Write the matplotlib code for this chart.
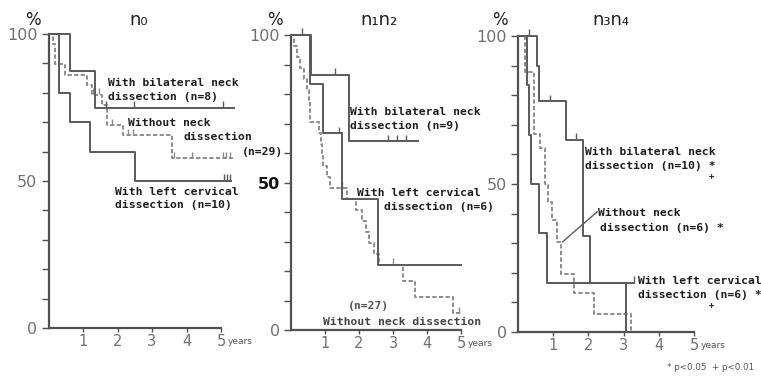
import numpy as np
import matplotlib
matplotlib.use("Agg")
import matplotlib.pyplot as plt

# survival curves, % alive vs years after treatment
# panel n0
n0_bil_t = [0, 0.63, 1.35]
n0_bil_s = [100, 87.5, 75]
n0_bil_end = 5.38
n0_bil_cens = [1.67, 2.49, 5.07]

n0_left_t = [0, 0.31, 0.63, 1.21, 2.51]
n0_left_s = [100, 80, 70, 60, 50]
n0_left_end = 5.3
n0_left_cens = [5.1, 5.18, 5.26]

n0_wo_t = [0, 0.12, 0.19, 0.48, 1.11, 1.26, 1.55, 1.69, 2.17, 3.58]
n0_wo_s = [100, 96.6, 89.7, 86.2, 82.8, 79.3, 75.9, 69.0, 65.5, 57.7]
n0_wo_end = 5.36
n0_wo_cens = [1.3, 1.45, 1.85, 2.3, 2.45, 3.65, 4.15, 5.05, 5.15, 5.25]

# panel n1n2
n12_bil_t = [0, 0.59, 1.71]
n12_bil_s = [100, 86.5, 64]
n12_bil_end = 3.74
n12_bil_cens = [0.32, 1.29, 2.86, 3.12, 3.38]

n12_left_t = [0, 0.56, 0.95, 1.51, 2.57]
n12_left_s = [100, 83.3, 66.7, 44.4, 22.2]
n12_left_end = 5.0
n12_left_cens = [1.4]

n12_wo_t = [0, 0.08, 0.18, 0.25, 0.38, 0.48, 0.52, 0.55, 0.57, 0.82, 0.88,
            0.92, 0.95, 1.05, 1.15, 1.65, 1.9, 2.1, 2.2, 2.3, 2.45, 2.6,
            3.3, 3.65, 4.75]
n12_wo_s = [100, 96.3, 92.6, 88.9, 85.2, 81.5, 77.8, 74.1, 70.4, 66.7, 63.0,
            59.3, 55.6, 51.9, 48.1, 44.4, 40.7, 37.0, 33.3, 29.6, 25.9, 22.2,
            16.7, 11.1, 5.6]
n12_wo_end = 5.0
n12_wo_cens = [1.5, 3.0, 4.95]

# panel n3n4
n34_bil_t = [0, 0.54, 0.61, 1.35, 1.84, 2.04, 3.06]
n34_bil_s = [100, 90, 78, 65, 32.5, 16.5, 0]
n34_bil_end = 3.06
n34_bil_cens = [0.3, 0.9, 1.65]

n34_left_t = [0, 0.25, 0.3, 0.36, 0.59, 0.81]
n34_left_s = [100, 83.3, 66.7, 50, 33.3, 16.7]
n34_left_end = 3.3
n34_left_cens = [3.3]

n34_wo_t = [0, 0.2, 0.46, 0.62, 0.76, 0.86, 0.98, 1.12, 1.22, 1.6, 2.17, 3.22]
n34_wo_s = [100, 88, 67, 62, 50, 44, 38, 30.5, 19.5, 13.3, 6, 0]
n34_wo_end = 3.22
n34_wo_cens = []

titles = ["n\u2080", "n\u2081n\u2082", "n\u2083n\u2084"]
x_ticks = [1, 2, 3, 4, 5]
y_ticks = [0, 50, 100]

SOLID = "#5a5a5a"
DASH = "#8c8c8c"
AXC = "#505050"
TXT = "#1e1e1e"
MONO = "DejaVu Sans Mono"

W, H = 761, 379
fig = plt.figure(figsize=(W / 100, H / 100), dpi=100)


def make_axes(x0, ppy, y0, y100):
    xmax = 5.8
    ax = fig.add_axes([x0 / W, (H - y0) / H, xmax * ppy / W, (y0 - y100) / H])
    ax.set_xlim(0, xmax)
    ax.set_ylim(0, 100)
    for s in ["top", "right"]:
        ax.spines[s].set_visible(False)
    for s in ["left", "bottom"]:
        ax.spines[s].set_color(AXC)
        ax.spines[s].set_linewidth(1.6)
    ax.spines["bottom"].set_bounds(0, 5)
    ax.spines["left"].set_bounds(0, 100)
    ax.set_xticks(x_ticks)
    ax.set_xticklabels([str(v) for v in x_ticks], color="#707070", fontsize=10.5)
    ax.set_yticks(np.arange(0, 101, 10), minor=True)
    ax.set_yticks(y_ticks)
    ax.set_yticklabels([str(v) for v in y_ticks], color="#707070", fontsize=11.5)
    ax.tick_params(axis="x", direction="out", length=3, width=1, color=AXC, pad=1)
    ax.tick_params(axis="y", which="both", direction="out", length=5, width=1,
                   color=AXC, pad=3)
    ax.patch.set_alpha(0)
    ax.text(5.2, -3.2, "years", fontsize=6.5, color="#555555", va="top",
            ha="left", clip_on=False)
    return ax


def surv_at(t, s, x):
    i = np.searchsorted(t, x, side="right") - 1
    return np.asarray(s)[i]


def curve(ax, t, s, end, cens, dashed=False):
    t = np.asarray(t, float)
    s = np.asarray(s, float)
    xs = np.r_[t, end]
    ys = np.r_[s, s[-1]]
    col = DASH if dashed else SOLID
    ls = (0, (2.2, 1.2)) if dashed else "-"
    ax.step(xs, ys, where="post", color=col, lw=1.4, ls=ls, clip_on=False,
            zorder=3)
    if len(cens):
        cy = surv_at(t, s, np.asarray(cens))
        ax.plot(cens, cy + 1.2, ls="none", marker="|", ms=4, mew=1, color=col,
                clip_on=False, zorder=3)


def label(ax, x, y, s, color=TXT, size=8.2):
    ax.text(x, y, s, fontsize=size, family=MONO, fontweight="bold", color=color,
            ha="left", va="center", clip_on=False, zorder=4)


ax1 = make_axes(48.5, 34.5, 328, 34)
ax2 = make_axes(291, 34.0, 330, 35)
ax3 = make_axes(518, 35.2, 332, 36)

curve(ax1, n0_wo_t, n0_wo_s, n0_wo_end, n0_wo_cens, dashed=True)
curve(ax1, n0_bil_t, n0_bil_s, n0_bil_end, n0_bil_cens)
curve(ax1, n0_left_t, n0_left_s, n0_left_end, n0_left_cens)

curve(ax2, n12_wo_t, n12_wo_s, n12_wo_end, n12_wo_cens, dashed=True)
curve(ax2, n12_bil_t, n12_bil_s, n12_bil_end, n12_bil_cens)
curve(ax2, n12_left_t, n12_left_s, n12_left_end, n12_left_cens)

curve(ax3, n34_wo_t, n34_wo_s, n34_wo_end, n34_wo_cens, dashed=True)
curve(ax3, n34_bil_t, n34_bil_s, n34_bil_end, n34_bil_cens)
curve(ax3, n34_left_t, n34_left_s, n34_left_end, n34_left_cens)

# the 50 label on the middle panel is printed heavier
ax2.get_yticklabels()[1].set_color("#111111")
ax2.get_yticklabels()[1].set_fontweight("bold")

label(ax1, 1.72, 83.3, "With bilateral neck")
label(ax1, 1.72, 78.6, "dissection (n=8)")
label(ax1, 2.30, 69.7, "Without neck")
label(ax1, 3.90, 65.0, "dissection")
label(ax1, 5.61, 59.9, "(n=29)")
label(ax1, 1.93, 46.3, "With left cervical")
label(ax1, 1.93, 41.8, "dissection (n=10)")

label(ax2, 1.74, 73.9, "With bilateral neck")
label(ax2, 1.74, 69.2, "dissection (n=9)")
label(ax2, 1.94, 46.4, "With left cervical")
label(ax2, 2.74, 41.7, "dissection (n=6)")
label(ax2, 1.68, 8.1, "(n=27)", color="#555555")
label(ax2, 0.94, 2.7, "Without neck dissection", color="#444444")

label(ax3, 1.90, 60.8, "With bilateral neck")
label(ax3, 1.90, 56.1, "dissection (n=10) *")
label(ax3, 5.42, 52.6, "+", size=6.5)
label(ax3, 2.27, 40.2, "Without neck")
label(ax3, 2.33, 35.1, "dissection (n=6) *")
ax3.plot([1.27, 2.25], [30.5, 40.6], color=SOLID, lw=1.0, clip_on=False)
label(ax3, 3.41, 17.2, "With left cervical")
label(ax3, 3.41, 12.5, "dissection (n=6) *")
label(ax3, 5.42, 9.0, "+", size=6.5)

# panel titles and % marks, placed in figure pixels
for cx, t in zip([139, 379, 611], titles):
    fig.text(cx / W, 1 - 20 / H, t, fontsize=13, color=TXT, ha="center",
             va="center")
for cx in [33, 275, 500]:
    fig.text(cx / W, 1 - 20 / H, "%", fontsize=12, color=TXT, ha="center",
             va="center")

fig.text(667 / W, 1 - 367 / H, "* p<0.05  + p<0.01", fontsize=6.3,
         color="#555555", ha="left", va="center")

fig.savefig("out.png", dpi=100)
